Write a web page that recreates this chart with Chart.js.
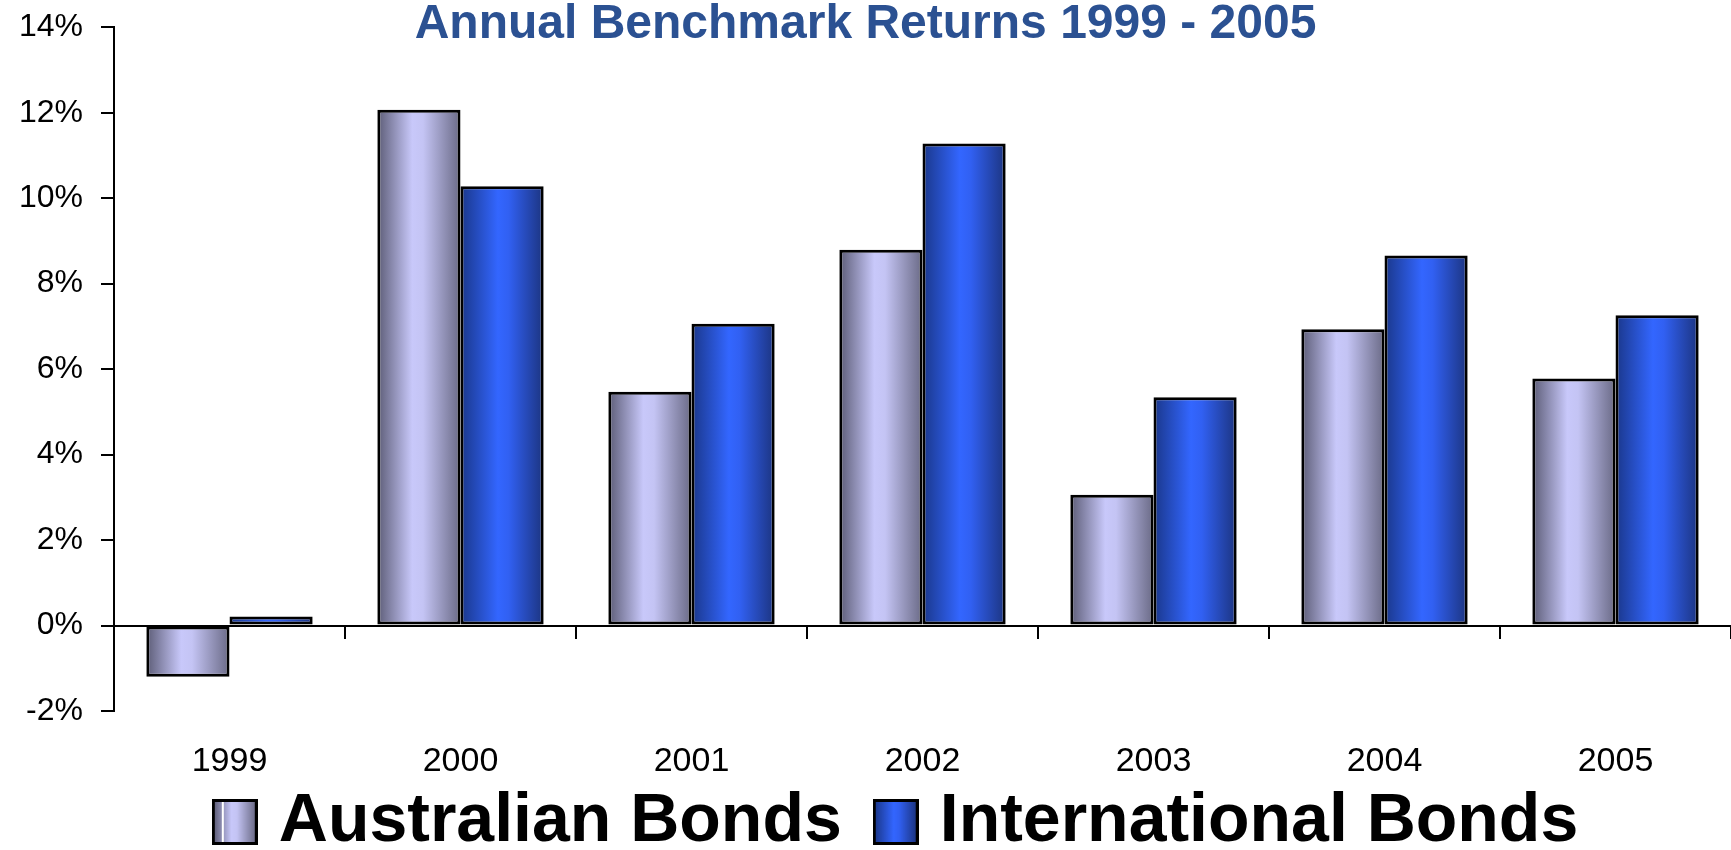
<!DOCTYPE html>
<html>
<head>
<meta charset="utf-8">
<script src="https://cdn.jsdelivr.net/npm/chart.js@4"></script>
<style>
  html, body { margin: 0; padding: 0; background: #fff; }
  #wrap { width: 1731px; height: 850px; }
</style>
</head>
<body>
<div id="wrap"><canvas id="myChart" width="1731" height="850"></canvas></div>
<script>
const years = ["1999", "2000", "2001", "2002", "2003", "2004", "2005"];
const australianBonds = [-1.2, 12.07, 5.47, 8.79, 3.06, 6.93, 5.78];
const internationalBonds = [0.21, 10.28, 7.06, 11.28, 5.34, 8.66, 7.26];
const seriesNames = ["Australian Bonds", "International Bonds"];
const yTicks = [-2, 0, 2, 4, 6, 8, 10, 12, 14];

const fontFamily = "'Liberation Sans', Arial, sans-serif";

// horizontal shading stops, one list per series
const shades = [
    [[0, "#5c5c76"], [0.42, "#c8c8fa"], [0.55, "#c4c4f4"], [1, "#6a6a86"]],
    [[0, "#1a378a"], [0.45, "#3366ff"], [0.58, "#3160f2"], [1, "#1c3480"]]
];

const makeShade = (ctx, left, width, i) => {
    const g = ctx.createLinearGradient(left, 0, left + width, 0);
    shades[i].forEach(([stop, c]) => g.addColorStop(stop, c));
    return g;
};

// little shaded boxes for the legend
const legendIcon = (i) => {
    const c = document.createElement("canvas");
    c.width = 46;
    c.height = 46;
    const cx = c.getContext("2d");
    cx.fillStyle = makeShade(cx, 2, 42, i);
    cx.fillRect(2, 2, 42, 42);
    if (i === 0) {
        cx.fillStyle = "#ffffff";
        cx.fillRect(10, 2, 2, 42);
    }
    cx.lineWidth = 3;
    cx.strokeStyle = "#000";
    cx.strokeRect(1.5, 1.5, 43, 43);
    return c;
};

const barShade = {
    id: "barShade",
    afterLayout(chart) {
        // nudge the legend a little left, the original is not centred on the plot
        chart.legend.left -= 21;
        chart.legend.right -= 21;
    },
    beforeDatasetsDraw(chart) {
        const ctx = chart.ctx;
        chart.data.datasets.forEach((ds, i) => {
            chart.getDatasetMeta(i).data.forEach(bar => {
                const left = bar.x - bar.width / 2;
                // options object is shared between bars, so give each its own copy
                bar.options = { ...bar.options, backgroundColor: makeShade(ctx, left, bar.width, i) };
            });
        });
    }
};

const ctx = document.getElementById("myChart");

new Chart(ctx, {
    type: "bar",
    data: {
        labels: years,
        datasets: [
            {
                label: seriesNames[0],
                data: australianBonds,
                backgroundColor: "#c8c8fa",
                borderColor: "#000",
                borderWidth: 3,
                borderSkipped: false,
                categoryPercentage: 0.72,
                barPercentage: 1.0
            },
            {
                label: seriesNames[1],
                data: internationalBonds,
                backgroundColor: "#3366ff",
                borderColor: "#000",
                borderWidth: 3,
                borderSkipped: false,
                categoryPercentage: 0.72,
                barPercentage: 1.0
            }
        ]
    },
    options: {
        responsive: false,
        animation: false,
        layout: { padding: { left: 0, right: 0, top: 0, bottom: -16 } },
        plugins: {
            tooltip: { enabled: false },
            title: {
                display: true,
                text: "Annual Benchmark Returns 1999 - 2005",
                color: "#2b5192",
                font: { family: fontFamily, size: 48, weight: "bold", lineHeight: 0.9 },
                padding: { top: 3, bottom: -19 }
            },
            legend: {
                position: "bottom",
                fullSize: false,
                labels: {
                    usePointStyle: true,
                    pointStyleWidth: 20,
                    boxHeight: 44,
                    padding: 44,
                    color: "#000",
                    font: { family: fontFamily, size: 68, weight: "bold" },
                    generateLabels: (chart) => chart.data.datasets.map((ds, i) => ({
                        text: ds.label,
                        pointStyle: legendIcon(i),
                        fillStyle: ds.backgroundColor,
                        strokeStyle: "#000",
                        lineWidth: 0,
                        hidden: false,
                        datasetIndex: i
                    }))
                }
            }
        },
        scales: {
            x: {
                grid: { display: false, drawTicks: false },
                border: { display: false },
                ticks: { display: false },
                afterFit: (scale) => {
                    scale.height = 33;
                    scale.paddingLeft = 0;
                    scale.paddingRight = 0;
                }
            },
            x2: {
                type: "category",
                position: { y: 0 },
                offset: true,
                grid: {
                    offset: true,
                    drawOnChartArea: false,
                    tickLength: 12,
                    color: "#000",
                    lineWidth: 2
                },
                border: { display: true, color: "#000", width: 2 },
                ticks: {
                    color: "#000",
                    padding: 104,
                    font: { family: fontFamily, size: 34 }
                },
                afterFit: (scale) => {
                    scale.paddingLeft = 0;
                    scale.paddingRight = 0;
                }
            },
            y: {
                min: yTicks[0],
                max: yTicks[yTicks.length - 1],
                afterBuildTicks: (scale) => { scale.ticks = yTicks.map(v => ({ value: v })); },
                grid: {
                    drawOnChartArea: false,
                    tickLength: 13,
                    tickColor: "#000",
                    lineWidth: 2
                },
                border: { display: true, color: "#000", width: 2 },
                ticks: {
                    color: "#000",
                    padding: 18,
                    font: { family: fontFamily, size: 32 },
                    callback: (v) => v + "%"
                },
                afterFit: (scale) => {
                    scale.width = 114;
                    scale.paddingTop = 20;
                    scale.paddingBottom = 20;
                }
            }
        }
    },
    plugins: [barShade]
});
</script>
</body>
</html>
